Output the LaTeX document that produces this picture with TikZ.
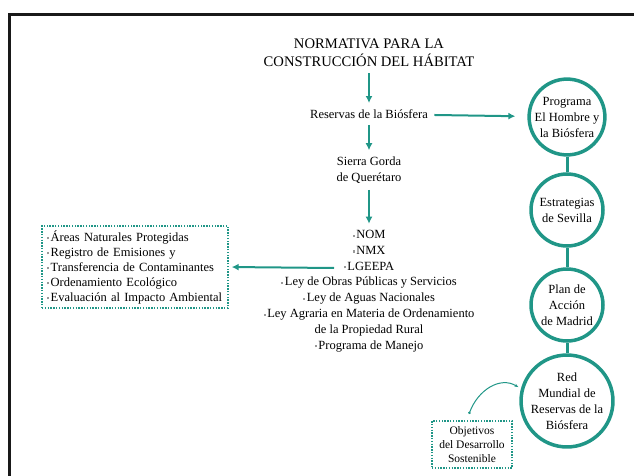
\documentclass[tikz,border=0pt]{standalone}
\usepackage{fontspec}
\setmainfont{Liberation Serif}
\usetikzlibrary{arrows.meta}
\definecolor{verdeazul}{RGB}{32,150,135}
\definecolor{marco}{RGB}{25,25,25}
\newcommand{\punto}{{\color{gray!80}\raisebox{0.3ex}{\rule{2.2pt}{2.2pt}}}\hspace{1.5pt}}

\begin{document}
\begin{tikzpicture}[x=1pt,y=-1pt]
  \tikzset{flecha/.style={draw=verdeazul,line width=2pt,-{Latex[length=7pt,width=7pt]},shorten <=3pt,shorten >=3pt},
    enlace/.style={draw=verdeazul,line width=3pt},
    etapa/.style={circle,draw=verdeazul,line width=3.5pt,fill=white,minimum size=72pt,inner sep=0pt,align=center,font=\fontsize{12.5}{16}\selectfont},
    recuadro/.style={draw=verdeazul,line width=1.4pt,dash pattern=on 1.4pt off 1.4pt},
    texto/.style={align=center,font=\fontsize{12.5}{15.8}\selectfont}}

  \useasboundingbox (0,0) rectangle (634,476);
  \draw[marco,line width=3pt] (9.5,500) -- (9.5,14.5) -- (660,14.5);

  \node [align=center,font=\fontsize{14.6}{18}\selectfont] (titulo) at (369,53) {NORMATIVA PARA LA\\CONSTRUCCIÓN DEL HÁBITAT};
  \node [texto] (reservas) at (369,114) {Reservas de la Biósfera};
  \node [texto] (sierra) at (369,170) {Sierra Gorda\\de Querétaro};
  \node [texto] (leyes) at (369,291) {\punto NOM\\\punto NMX\\\punto LGEEPA\\\punto Ley de Obras Públicas y Servicios\\\punto Ley de Aguas Nacionales\\\punto Ley Agraria en Materia de Ordenamiento\\de la Propiedad Rural\\\punto Programa de Manejo};
  \coordinate (lgeepa) at (334,268);

  \node [recuadro,minimum width=186pt,minimum height=82pt,text width=176pt,align=left,font=\fontsize{12.5}{15}\selectfont] (areas) at (135,267)
    {\punto Áreas Naturales Protegidas\\\punto Registro de Emisiones y\\\punto Transferencia de Contaminantes\\\punto Ordenamiento Ecológico\\\punto Evaluación al Impacto Ambiental};

  \node [etapa] (programa) at (567,117) {Programa\\El Hombre y\\la Biósfera};
  \node [etapa] (sevilla) at (567,210) {Estrategias\\de Sevilla};
  \node [etapa] (madrid) at (567,305) {Plan de\\Acción\\de Madrid};
  \node [etapa] (red) at (567,401) {Red\\Mundial de\\Reservas de la\\Biósfera};

  \node [recuadro,minimum width=80pt,minimum height=47pt,align=center,font=\fontsize{11.5}{14}\selectfont] (objetivos) at (472,444.5) {Objetivos\\del Desarrollo\\Sostenible};
  \coordinate (inicio) at (469,414);

  \draw[flecha] (titulo) -- (reservas);
  \draw[flecha] (reservas) -- (sierra);
  \draw[flecha] (sierra) -- (leyes);
  \draw[flecha,shorten >=12pt] (reservas) -- (programa);
  \draw[flecha,shorten <=0pt] (lgeepa) -- (areas.east);

  \draw[enlace] (programa) -- (sevilla);
  \draw[enlace] (sevilla) -- (madrid);
  \draw[enlace] (madrid) -- (red);

  \draw[draw=verdeazul,line width=1pt,{Circle[length=2.5pt]}-{Stealth[length=4pt]},shorten >=3pt] (inicio) .. controls (478,390) and (500,376) .. (red.165);
\end{tikzpicture}
\end{document}
